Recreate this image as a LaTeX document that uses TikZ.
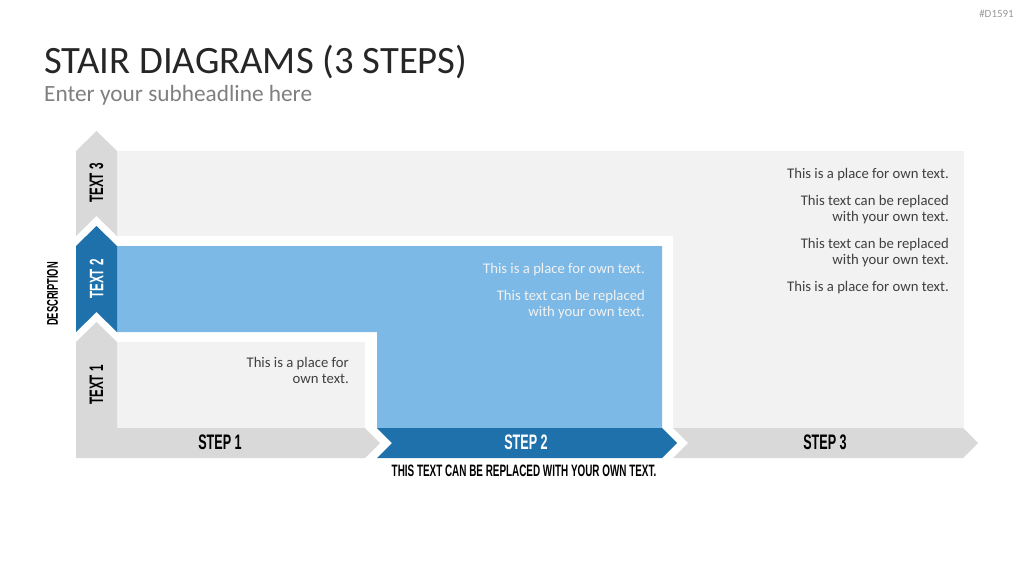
\documentclass[tikz,border=0pt]{standalone}
\usepackage{fontspec}
\setmainfont{Carlito}
\newfontfamily\cond[FakeStretch=0.6]{Liberation Sans}
\definecolor{lgray}{HTML}{F2F2F2}
\definecolor{mgray}{HTML}{D9D9D9}
\definecolor{lblue}{HTML}{7CB9E6}
\definecolor{dblue}{HTML}{1F71AB}
\definecolor{txt}{HTML}{404040}
\definecolor{ttl}{HTML}{262626}
\definecolor{sub}{HTML}{7F7F7F}
\tikzset{
  lbl/.style={font=\cond\bfseries\fontsize{21}{21}\selectfont, text=black, inner sep=0pt},
  vlbl/.style={font=\cond\bfseries\fontsize{19.5}{19.5}\selectfont, text=black, inner sep=0pt, rotate=90},
  body/.style={font=\fontsize{14.7}{16}\selectfont, text=txt, align=right, inner sep=0pt, anchor=north east},
}
\begin{document}
\begin{tikzpicture}[x=1pt,y=-1pt]
\useasboundingbox (0,0) rectangle (1024,576);
% corner code
\node[text=sub!80, font=\fontsize{11}{11}\selectfont, anchor=east, inner sep=0pt] (code) at (1014,14) {\#D1591};
% titles
\node[anchor=base west, inner sep=0pt, text=ttl, font=\fontsize{38.7}{38.7}\selectfont] (title) at (44,73) {STAIR DIAGRAMS (3 STEPS)};
\node[anchor=base west, inner sep=0pt, text=sub, font=\fontsize{23.3}{23.3}\selectfont] (subtitle) at (44,101) {Enter your subheadline here};
% background areas
\fill[lgray] (117,151) rectangle (964,428);
\fill[white] (117,236) -- (673,236) -- (673,428) -- (365,428) -- (365,342) -- (117,342) -- cycle;
\fill[lblue] (117,246) -- (662,246) -- (662,428) -- (377,428) -- (377,332) -- (117,332) -- cycle;
\fill[lgray] (117,342) rectangle (365,428);
% left column chevrons
\fill[mgray] (76,151) -- (96.5,131) -- (117,151) -- (117,236) -- (96.5,216) -- (76,236) -- cycle;
\fill[dblue] (76,246) -- (96.5,226) -- (117,246) -- (117,332) -- (96.5,312) -- (76,332) -- cycle;
\fill[mgray] (76,342) -- (96.5,322) -- (117,342) -- (117,428) -- (365,428) -- (380,443) -- (365,458) -- (76,458) -- cycle;
% step chevrons
\fill[dblue] (377,428) -- (662,428) -- (677,443) -- (662,458) -- (377,458) -- (392,443) -- cycle;
\fill[mgray] (673,428) -- (963,428) -- (978,443) -- (963,458) -- (673,458) -- (688,443) -- cycle;
% labels
\node[vlbl] (t3) at (96.5,183) {TEXT 3};
\node[vlbl, text=white] (t2) at (96.5,279) {TEXT 2};
\node[vlbl] (t1) at (96.5,385) {TEXT 1};
\node[lbl] (s1) at (220,442) {STEP 1};
\node[lbl, text=white] (s2) at (526,442) {STEP 2};
\node[lbl] (s3) at (825,442) {STEP 3};
\node[font=\cond\bfseries\fontsize{16.5}{16.5}\selectfont, inner sep=0pt] (foot) at (524,471) {THIS TEXT CAN BE REPLACED WITH YOUR OWN TEXT.};
\node[font=\cond\bfseries\fontsize{15.5}{15.5}\selectfont, inner sep=0pt, rotate=90] (desc) at (52.5,294) {DESCRIPTION};
% body texts
\node[body] (b1) at (349,357) {This is a place for\\own text.};
\node[body, text=lgray] (b2a) at (645,263) {This is a place for own text.};
\node[body, text=lgray] (b2b) at (645,290) {This text can be replaced\\with your own text.};
\node[body] (b3a) at (949,168) {This is a place for own text.};
\node[body] (b3b) at (949,195) {This text can be replaced\\with your own text.};
\node[body] (b3c) at (949,238) {This text can be replaced\\with your own text.};
\node[body] (b3d) at (949,281) {This is a place for own text.};
\end{tikzpicture}
\end{document}
